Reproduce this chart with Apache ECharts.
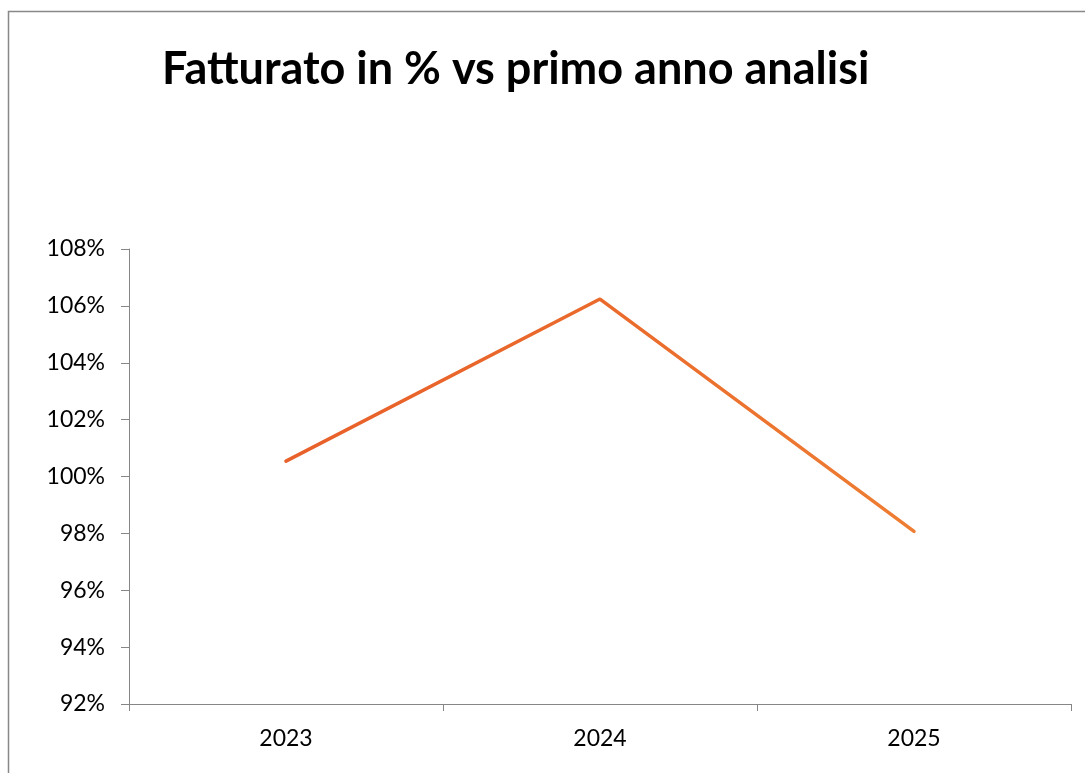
<!DOCTYPE html>
<html>
<head>
<meta charset="utf-8">
<script src="https://cdn.jsdelivr.net/npm/echarts@6/dist/echarts.min.js"></script>
<style>
  html, body { margin: 0; padding: 0; background: #fff; }
  #chart { width: 1085px; height: 773px; }
</style>
</head>
<body>
<div id="chart"></div>
<script>
var years = ['2023', '2024', '2025'];
var fatturatoPct = [100.54, 106.24, 98.07];
var yTicks = [92, 94, 96, 98, 100, 102, 104, 106, 108];

var lineChart = function () {
    var box = document.getElementById('chart');
    var option = {
        animation: false,
        title: {
            text: 'Fatturato in % vs primo anno analisi',
            left: 157,
            top: 42,
            textStyle: {
                fontFamily: 'Lato',
                fontWeight: 'bold',
                fontSize: 45,
                color: '#000'
            }
        },
        graphic: [{
            type: 'rect',
            shape: { x: 8.5, y: 11.5, width: 1200, height: 900 },
            style: { fill: 'none', stroke: '#888', lineWidth: 1.5 },
            silent: true
        }],
        grid: {
            left: 129,
            right: 14,
            top: 249,
            bottom: 69
        },
        xAxis: {
            type: 'category',
            data: years,
            boundaryGap: true,
            axisLine: { lineStyle: { color: '#868686', width: 1 } },
            axisTick: { show: true, length: 7, lineStyle: { color: '#868686' } },
            axisLabel: {
                fontFamily: 'Lato',
                fontSize: 23,
                color: '#000',
                margin: 23
            }
        },
        yAxis: {
            type: 'value',
            min: yTicks[0],
            max: yTicks[yTicks.length - 1],
            interval: 2,
            axisLine: { show: true, lineStyle: { color: '#868686', width: 1 } },
            axisTick: { show: true, length: 8, lineStyle: { color: '#868686' } },
            splitLine: { show: false },
            axisLabel: {
                fontFamily: 'Lato',
                fontSize: 23,
                color: '#000',
                margin: 24,
                formatter: function (v) { return v + '%'; }
            }
        },
        series: [{
            name: 'Fatturato',
            type: 'line',
            data: fatturatoPct,
            symbol: 'none',
            lineStyle: {
                width: 3.5,
                cap: 'round',
                color: {
                    type: 'linear', x: 0, y: 0, x2: 1, y2: 0,
                    colorStops: [
                        { offset: 0, color: '#E8602A' },
                        { offset: 0.5, color: '#EA6A2C' },
                        { offset: 1, color: '#EE7E33' }
                    ]
                }
            }
        }]
    };
    echarts.init(box).setOption(option);
};
lineChart();
</script>
</body>
</html>
